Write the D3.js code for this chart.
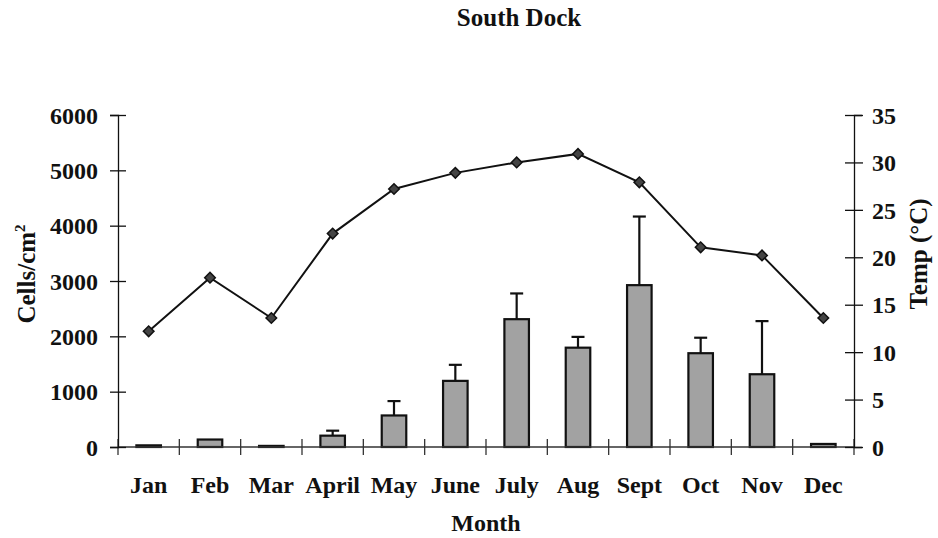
<!DOCTYPE html>
<html><head><meta charset="utf-8">
<script src="https://cdn.jsdelivr.net/npm/d3@7"></script>
<style>body{margin:0;background:#fff}svg{display:block}text{font-family:"Liberation Serif","Times New Roman",serif;font-weight:bold;fill:#111}</style>
</head><body><svg id="c" width="938" height="538"></svg>
<script>
const months = ["Jan","Feb","Mar","April","May","June","July","Aug","Sept","Oct","Nov","Dec"];
const cells = [30,135,20,205,570,1195,2310,1795,2925,1695,1315,55];
const cellsErr = [0,0,0,90,260,290,465,195,1240,280,960,0];
const temp = [12.2,17.85,13.6,22.5,27.2,28.9,30.0,30.9,27.9,21.05,20.2,13.6];
const leftTicks = [0,1000,2000,3000,4000,5000,6000];
const rightTicks = [0,5,10,15,20,25,30,35];

const svg = d3.select("#c");
const L = 118, R = 854, T = 115, B = 447;
const x = d3.scaleBand().domain(months).range([L, R]).paddingInner(0.6).paddingOuter(0.3);
const xb = d3.scaleLinear().domain([0, 12]).range([L, R]);
const yL = d3.scaleLinear().domain([0, 6000]).range([B, T]);
const yR = d3.scaleLinear().domain([0, 35]).range([B, T]);
const fs = 24;

// title
svg.append("text").attr("x", 519).attr("y", 26).attr("text-anchor", "middle").attr("font-size", 25).text("South Dock");

// bars
const cx = m => x(m) + x.bandwidth() / 2;
svg.append("g").selectAll("rect").data(months).join("rect")
  .attr("x", m => x(m)).attr("width", x.bandwidth())
  .attr("y", (m, i) => yL(cells[i])).attr("height", (m, i) => B - yL(cells[i]))
  .attr("fill", "#a2a2a2").attr("stroke", "#111").attr("stroke-width", 2.2);

// error bars
const eg = svg.append("g").attr("stroke", "#111").attr("stroke-width", 2.2);
months.forEach((m, i) => {
  if (!cellsErr[i]) return;
  const top = yL(cells[i] + cellsErr[i]);
  eg.append("line").attr("x1", cx(m)).attr("x2", cx(m)).attr("y1", yL(cells[i])).attr("y2", top);
  eg.append("line").attr("x1", cx(m) - 6.5).attr("x2", cx(m) + 6.5).attr("y1", top).attr("y2", top);
});

// x axis
const ax = svg.append("g").attr("stroke", "#333").attr("stroke-width", 1.3);
ax.append("line").attr("x1", L).attr("x2", R).attr("y1", B).attr("y2", B);
d3.range(0, 13).forEach(k => {
  ax.append("line").attr("x1", xb(k)).attr("x2", xb(k)).attr("y1", B - 8).attr("y2", B + 8);
});
svg.append("g").selectAll("text").data(months).join("text")
  .attr("x", m => cx(m)).attr("y", 493).attr("text-anchor", "middle").attr("font-size", fs).text(m => m);
svg.append("text").attr("x", 486).attr("y", 531).attr("text-anchor", "middle").attr("font-size", fs).text("Month");

// left axis
const gl = svg.append("g").attr("transform", `translate(${L},0)`)
  .call(d3.axisLeft(yL).tickValues(leftTicks).tickSize(8).tickPadding(12).tickFormat(d3.format("d")));
gl.select(".domain").attr("stroke", "#111").attr("stroke-width", 1.3);
gl.selectAll(".tick line").attr("x2", 8).attr("x1", -8).attr("stroke", "#111").attr("stroke-width", 1.3);
gl.selectAll(".tick text").attr("font-size", fs).attr("x", -20).attr("dy", "0.34em");
gl.attr("font-family", null).attr("font-size", null);

// right axis
const gr = svg.append("g").attr("transform", `translate(${R},0)`)
  .call(d3.axisRight(yR).tickValues(rightTicks).tickSize(8).tickFormat(d3.format("d")));
gr.select(".domain").attr("stroke", "#111").attr("stroke-width", 1.3);
gr.selectAll(".tick line").attr("x2", 9).attr("x1", -9).attr("stroke", "#111").attr("stroke-width", 1.3);
gr.selectAll(".tick text").attr("font-size", fs).attr("x", 18).attr("dy", "0.34em");
gr.attr("font-family", null).attr("font-size", null);

// axis titles
const lt = svg.append("text").attr("transform", "translate(35,274) rotate(-90)").attr("text-anchor", "middle").attr("font-size", 25);
lt.append("tspan").text("Cells/cm");
lt.append("tspan").attr("font-size", 15).attr("dy", -10).text("2");
svg.append("text").attr("transform", "translate(927,254) rotate(-90)").attr("text-anchor", "middle").attr("font-size", 25).text("Temp (°C)");

// temperature line
const line = d3.line().x((d, i) => cx(months[i])).y(d => yR(d));
svg.append("path").datum(temp).attr("d", line).attr("fill", "none").attr("stroke", "#111").attr("stroke-width", 2);
svg.append("g").selectAll("path").data(temp).join("path")
  .attr("d", d3.symbol(d3.symbolSquare, 56))
  .attr("transform", (d, i) => `translate(${cx(months[i])},${yR(d)}) rotate(45)`)
  .attr("fill", "#444").attr("stroke", "#111").attr("stroke-width", 1.5);
</script></body></html>
